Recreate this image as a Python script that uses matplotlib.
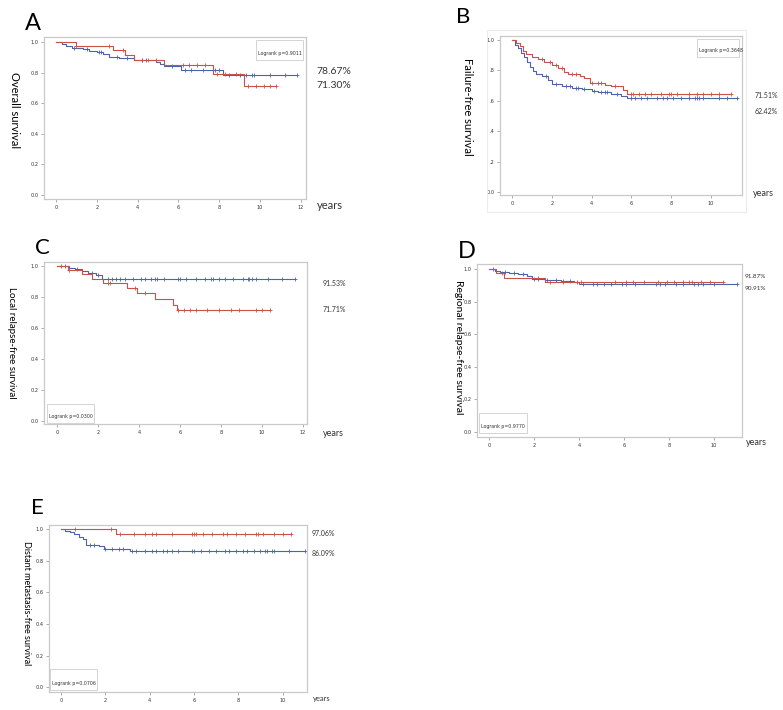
import matplotlib
matplotlib.use("Agg")
import matplotlib.pyplot as plt
import numpy as np
from matplotlib.patches import Rectangle

W, H = 783, 710

# ---- данные ----
# A: overall survival
a_red_t = [0, 1.0, 2.8, 3.4, 3.8, 5.3, 7.7, 9.2]
a_red_s = [1.0, 0.974, 0.946, 0.913, 0.882, 0.849, 0.79, 0.713]
a_red_end = 10.8
a_red_cens = [1.0, 2.6, 3.3, 4.2, 4.5, 4.9, 6.2, 6.5, 6.9, 7.3, 7.9, 8.3, 8.8, 9.4, 9.8, 10.2, 10.5, 10.8]
a_blue_t = [0, 0.3, 0.5, 0.8, 1.3, 1.6, 2.0, 2.3, 2.6, 3.1, 3.8, 4.9, 5.1, 5.3, 6.1, 8.2]
a_blue_s = [1.0, 0.985, 0.972, 0.962, 0.952, 0.943, 0.932, 0.92, 0.905, 0.895, 0.882, 0.872, 0.858, 0.845, 0.82, 0.787]
a_blue_end = 11.8
a_blue_cens = [0.9, 1.5, 2.1, 2.2, 3.0, 3.5, 4.2, 4.4, 5.7, 6.3, 6.6, 7.2, 7.7, 7.8, 8.0, 8.5, 9.0, 9.3, 9.6, 9.7, 10.5, 11.2, 11.8]

# B: failure-free survival
b_red_t = [0, 0.2, 0.4, 0.55, 0.7, 1.0, 1.3, 1.6, 2.0, 2.3, 2.6, 2.8, 3.4, 3.6, 3.9, 4.7, 5.0, 5.6, 5.8]
b_red_s = [1.0, 0.98, 0.96, 0.93, 0.905, 0.89, 0.875, 0.855, 0.836, 0.818, 0.792, 0.775, 0.763, 0.748, 0.718, 0.705, 0.695, 0.672, 0.645]
b_red_end = 11.0
b_red_cens = [1.5, 1.9, 2.2, 2.5, 3.0, 3.2, 4.0, 4.3, 4.5, 5.2, 6.0, 6.1, 6.4, 6.7, 7.0, 7.5, 7.9, 8.0, 8.3, 8.9, 9.3, 9.6, 10.0, 10.4, 11.0]
b_blue_t = [0, 0.15, 0.3, 0.45, 0.6, 0.75, 0.9, 1.05, 1.2, 1.5, 1.8, 2.0, 2.5, 3.0, 3.5, 4.0, 4.3, 5.0, 5.5, 5.8]
b_blue_s = [1.0, 0.97, 0.945, 0.915, 0.885, 0.855, 0.825, 0.795, 0.775, 0.76, 0.735, 0.71, 0.697, 0.686, 0.676, 0.665, 0.655, 0.645, 0.632, 0.618]
b_blue_end = 11.3
b_blue_cens = [1.7, 2.2, 2.7, 2.9, 3.2, 3.3, 3.6, 4.1, 4.5, 4.7, 4.8, 5.3, 6.0, 6.2, 6.5, 6.8, 7.3, 7.6, 7.8, 8.1, 8.5, 8.9, 9.2, 9.3, 9.4, 9.6, 10.4, 10.8, 11.3]

# C: local relapse-free survival
c_red_t = [0, 0.55, 1.2, 1.7, 2.25, 3.4, 3.9, 4.8, 5.65, 5.85]
c_red_s = [1.0, 0.974, 0.946, 0.916, 0.892, 0.857, 0.827, 0.787, 0.75, 0.717]
c_red_end = 10.4
c_red_cens = [0.6, 2.5, 2.6, 3.8, 4.3, 5.9, 6.2, 6.5, 6.8, 7.3, 7.9, 8.5, 8.9, 9.7, 10.0, 10.4]
c_blue_t = [0, 0.6, 0.9, 1.2, 1.5, 1.9, 2.2]
c_blue_s = [1.0, 0.99, 0.978, 0.965, 0.955, 0.94, 0.915]
c_blue_end = 11.6
c_blue_cens = [0.2, 0.4, 1.0, 1.7, 2.0, 2.5, 2.7, 2.9, 3.1, 3.3, 3.7, 4.1, 4.3, 4.6, 4.8, 4.9, 5.2, 5.9, 6.0,
               6.3, 6.8, 7.2, 7.5, 7.6, 7.9, 8.2, 8.6, 9.1, 9.3, 9.35, 9.5, 9.7, 10.3, 11.0, 11.6]

# D: regional relapse-free survival
d_red_t = [0, 0.3, 0.65, 2.5]
d_red_s = [1.0, 0.975, 0.947, 0.919]
d_red_end = 10.4
d_red_cens = [0.6, 2.2, 2.7, 3.3, 4.1, 5.6, 6.1, 6.4, 6.9, 7.5, 7.9, 8.2, 8.6, 8.9, 9.0, 9.4, 9.8, 10.4]
d_blue_t = [0, 0.25, 0.5, 0.9, 1.3, 1.7, 1.9, 2.5, 2.8, 3.2, 3.8, 4.0]
d_blue_s = [1.0, 0.99, 0.982, 0.975, 0.966, 0.958, 0.94, 0.935, 0.93, 0.925, 0.92, 0.909]
d_blue_end = 11.0
d_blue_cens = [0.2, 0.7, 1.1, 1.5, 2.0, 2.2, 2.6, 3.0, 3.3, 3.6, 3.9, 4.2, 4.6, 4.8, 5.1, 5.4, 5.9, 6.1, 6.5,
               7.4, 7.6, 7.8, 8.3, 8.6, 9.1, 9.3, 9.5, 10.0, 11.0]

# E: distant metastasis-free survival
e_red_t = [0, 2.5]
e_red_s = [1.0, 0.968]
e_red_end = 10.4
e_red_cens = [0.65, 2.25, 2.65, 3.3, 3.8, 4.1, 4.3, 5.0, 5.9, 6.0, 6.1, 6.4, 6.8, 7.3, 7.5, 7.9, 8.3, 8.8,
              8.9, 9.1, 9.6, 10.0, 10.4]
e_blue_t = [0, 0.2, 0.4, 0.6, 0.8, 1.0, 1.15, 1.7, 1.95, 2.9, 3.1]
e_blue_s = [1.0, 0.99, 0.978, 0.965, 0.95, 0.935, 0.9, 0.895, 0.876, 0.872, 0.861]
e_blue_end = 11.0
e_blue_cens = [1.3, 1.5, 2.0, 2.3, 2.6, 2.8, 3.2, 3.4, 3.8, 4.1, 4.3, 4.6, 4.8, 5.0, 5.3, 5.9, 6.0, 6.3, 6.7,
               7.0, 7.4, 7.6, 7.9, 8.2, 8.4, 8.7, 9.0, 9.2, 9.3, 9.5, 9.6, 10.3, 11.0]

RED = "#c8524a"
BLUE = "#4c63a8"
GRAY = "#c9c9c9"
LABEL_FONT = ["Lato", "DejaVu Sans"]

fig = plt.figure(figsize=(W / 100, H / 100), dpi=100)


# добавить оси по пиксельным координатам (верхний левый угол - начало)
def px_axes(x0, y0, x1, y1):
    return fig.add_axes([x0 / W, 1 - y1 / H, (x1 - x0) / W, (y1 - y0) / H])


def px_text(x, y, s, **kw):
    fig.text(x / W, 1 - y / H, s, **kw)


# ступенчатая кривая Каплана-Мейера + отметки цензурирования
def km_curve(ax, tt, ss, end, cens, color):
    xx = list(tt) + [end]
    yy = list(ss) + [ss[-1]]
    ax.step(xx, yy, where="post", color=color, lw=0.8)
    idx = np.searchsorted(np.array(tt), np.array(cens), side="right") - 1
    cy = np.array(ss)[idx]
    ax.plot(cens, cy, "+", color=color, ms=3, mew=0.6)


def style_axes(ax, xlim, ylim, xticks, yticks, ylabels=None):
    ax.set_xlim(*xlim)
    ax.set_ylim(*ylim)
    ax.set_xticks(xticks)
    ax.set_yticks(yticks)
    if ylabels is not None:
        ax.set_yticklabels(ylabels)
    else:
        ax.set_yticklabels(["%.1f" % v for v in yticks])
    for sp in ax.spines.values():
        sp.set_color(GRAY)
        sp.set_linewidth(0.9)
    ax.tick_params(labelsize=3.6, length=2, width=0.5, color="#888888", labelcolor="#333333", pad=2)


def logrank_box(ax, x0, y0, x1, y1, text):
    # координаты в пикселях фигуры
    r = Rectangle((x0 / W, 1 - y1 / H), (x1 - x0) / W, (y1 - y0) / H, transform=fig.transFigure,
                  facecolor="white", edgecolor="#d4d4d4", lw=0.7, zorder=5)
    fig.patches.append(r)
    fig.text((x0 + 2) / W, 1 - (y1 - 4) / H, text, fontsize=3.4, color="#333333", va="bottom", zorder=6)


yt = [0, 0.2, 0.4, 0.6, 0.8, 1.0]

# ---- A ----
ax = px_axes(44, 37, 306, 199)
km_curve(ax, a_blue_t, a_blue_s, a_blue_end, a_blue_cens, BLUE)
km_curve(ax, a_red_t, a_red_s, a_red_end, a_red_cens, RED)
style_axes(ax, (-0.59, 12.25), (-0.026, 1.033), [0, 2, 4, 6, 8, 10, 12], yt)
logrank_box(ax, 256, 40, 303, 60, "Logrank p=0.9011")
px_text(33, 23, "A", fontsize=17, family=LABEL_FONT, ha="center", va="center")
px_text(14, 110, "Overall survival", fontsize=8, family=LABEL_FONT, rotation=270, ha="center", va="center")
px_text(316, 71, "78.67%", fontsize=7.5, family=LABEL_FONT, va="center", color="#333333")
px_text(316, 85, "71.30%", fontsize=7.5, family=LABEL_FONT, va="center", color="#333333")
px_text(317, 205, "years", fontsize=8, family=LABEL_FONT, va="center", color="#333333")

# ---- B ----
fig.patches.append(Rectangle((487 / W, 1 - 212 / H), 259 / W, 182 / H, transform=fig.transFigure,
                             facecolor="none", edgecolor="#ececec", lw=0.8))
ax = px_axes(500, 36, 742, 195)
km_curve(ax, b_blue_t, b_blue_s, b_blue_end, b_blue_cens, BLUE)
km_curve(ax, b_red_t, b_red_s, b_red_end, b_red_cens, RED)
style_axes(ax, (-0.6, 11.56), (-0.02, 1.026), [0, 2, 4, 6, 8, 10], yt,
           ["0.0", ".2", ".4", ".6", ".8", "1.0"])
logrank_box(ax, 697, 39, 739, 57, "Logrank p=0.3648")
px_text(463, 17, "B", fontsize=16, family=LABEL_FONT, ha="center", va="center")
px_text(467, 107, "Failure-free survival", fontsize=8, family=LABEL_FONT, rotation=270, ha="center", va="center")
px_text(755, 95, "71.51%", fontsize=5, family=LABEL_FONT, va="center", color="#333333")
px_text(755, 112, "62.42%", fontsize=5, family=LABEL_FONT, va="center", color="#333333")
px_text(753, 193, "years", fontsize=6.5, family=LABEL_FONT, va="center", color="#333333")

# ---- C ----
ax = px_axes(44, 262, 307, 424)
km_curve(ax, c_blue_t, c_blue_s, c_blue_end, c_blue_cens, BLUE)
km_curve(ax, c_red_t, c_red_s, c_red_end, c_red_cens, RED)
style_axes(ax, (-0.63, 12.2), (-0.019, 1.026), [0, 2, 4, 6, 8, 10, 12], yt)
logrank_box(ax, 47, 404, 94, 423, "Logrank p=0.0300")
px_text(42, 248, "C", fontsize=16, family=LABEL_FONT, ha="center", va="center")
px_text(11, 343, "Local relapse-free survival", fontsize=7, family=LABEL_FONT, rotation=270, ha="center", va="center")
px_text(323, 283, "91.53%", fontsize=5, family=LABEL_FONT, va="center", color="#333333")
px_text(323, 309, "71.71%", fontsize=5, family=LABEL_FONT, va="center", color="#333333")
px_text(323, 433, "years", fontsize=6.5, family=LABEL_FONT, va="center", color="#333333")

# ---- D ----
ax = px_axes(477, 264, 742, 437)
km_curve(ax, d_blue_t, d_blue_s, d_blue_end, d_blue_cens, BLUE)
km_curve(ax, d_red_t, d_red_s, d_red_end, d_red_cens, RED)
style_axes(ax, (-0.53, 11.24), (-0.03, 1.03), [0, 2, 4, 6, 8, 10], yt)
logrank_box(ax, 479, 413, 527, 433, "Logrank p=0.9770")
px_text(467, 252, "D", fontsize=17, family=LABEL_FONT, ha="center", va="center")
px_text(459, 347, "Regional relapse-free survival", fontsize=7.5, family=LABEL_FONT, rotation=270,
        ha="center", va="center", zorder=10)
px_text(745, 277, "91.87%", fontsize=4.6, family=LABEL_FONT, va="center", color="#333333")
px_text(745, 289, "90.91%", fontsize=4.6, family=LABEL_FONT, va="center", color="#333333")
px_text(746, 443, "years", fontsize=6.5, family=LABEL_FONT, va="center", color="#333333")

# ---- E ----
ax = px_axes(49, 525, 307, 692)
km_curve(ax, e_blue_t, e_blue_s, e_blue_end, e_blue_cens, BLUE)
km_curve(ax, e_red_t, e_red_s, e_red_end, e_red_cens, RED)
style_axes(ax, (-0.54, 11.1), (-0.03, 1.025), [0, 2, 4, 6, 8, 10], yt)
logrank_box(ax, 50, 669, 97, 690, "Logrank p=0.0706")
px_text(37, 508, "E", fontsize=16, family=LABEL_FONT, ha="center", va="center")
px_text(26, 603, "Distant metastasis-free survival", fontsize=6.5, family=LABEL_FONT, rotation=270,
        ha="center", va="center")
px_text(312, 533, "97.06%", fontsize=5, family=LABEL_FONT, va="center", color="#333333")
px_text(312, 554, "86.09%", fontsize=5, family=LABEL_FONT, va="center", color="#333333")
px_text(313, 699, "years", fontsize=5.5, family=LABEL_FONT, va="center", color="#333333")

fig.savefig("out.png", dpi=100)
